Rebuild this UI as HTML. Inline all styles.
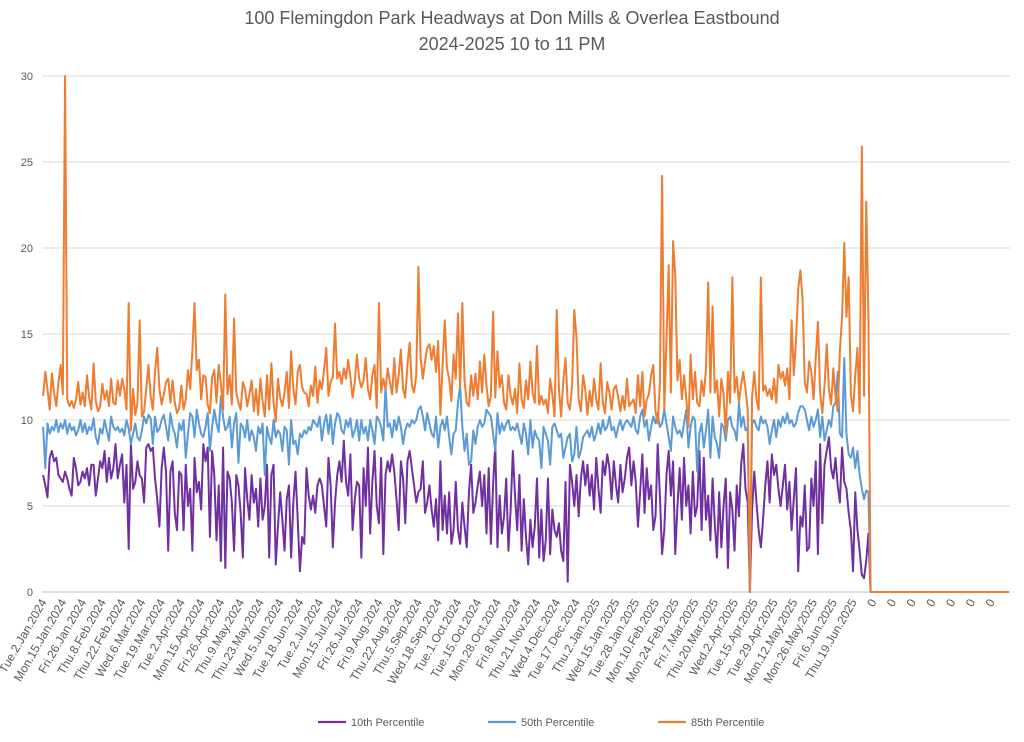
<!DOCTYPE html>
<html><head><meta charset="utf-8"><style>
body{margin:0;background:#fff;font-family:"Liberation Sans",sans-serif;}
svg text{font-family:"Liberation Sans",sans-serif;fill:#595959;}
</style></head><body>
<svg id="chart" width="1024" height="737" viewBox="0 0 1024 737" xmlns="http://www.w3.org/2000/svg">
<text x="512" y="24" text-anchor="middle" font-size="18">100 Flemingdon Park Headways at Don Mills &amp; Overlea Eastbound</text>
<text x="512" y="50" text-anchor="middle" font-size="18">2024-2025 10 to 11 PM</text>
<g id="grid"></g><g id="yticks"></g><g id="xticks"></g><g id="series"></g>
<g>
<line x1="318" y1="722" x2="346" y2="722" stroke="#7030A0" stroke-width="2.2"/>
<text x="351" y="726" font-size="11">10th Percentile</text>
<line x1="488" y1="722" x2="516" y2="722" stroke="#5B9BD5" stroke-width="2.2"/>
<text x="521" y="726" font-size="11">50th Percentile</text>
<line x1="658" y1="722" x2="686" y2="722" stroke="#ED7D31" stroke-width="2.2"/>
<text x="691" y="726" font-size="11">85th Percentile</text>
</g>
</svg>
<script>
const categoryLabels=["Tue.2.Jan.2024","Mon.15.Jan.2024","Fri.26.Jan.2024","Thu.8.Feb.2024","Thu.22.Feb.2024","Wed.6.Mar.2024","Tue.19.Mar.2024","Tue.2.Apr.2024","Mon.15.Apr.2024","Fri.26.Apr.2024","Thu.9.May.2024","Thu.23.May.2024","Wed.5.Jun.2024","Tue.18.Jun.2024","Tue.2.Jul.2024","Mon.15.Jul.2024","Fri.26.Jul.2024","Fri.9.Aug.2024","Thu.22.Aug.2024","Thu.5.Sep.2024","Wed.18.Sep.2024","Tue.1.Oct.2024","Tue.15.Oct.2024","Mon.28.Oct.2024","Fri.8.Nov.2024","Thu.21.Nov.2024","Wed.4.Dec.2024","Tue.17.Dec.2024","Thu.2.Jan.2025","Wed.15.Jan.2025","Tue.28.Jan.2025","Mon.10.Feb.2025","Mon.24.Feb.2025","Fri.7.Mar.2025","Thu.20.Mar.2025","Wed.2.Apr.2025","Tue.15.Apr.2025","Tue.29.Apr.2025","Mon.12.May.2025","Mon.26.May.2025","Fri.6.Jun.2025","Thu.19.Jun.2025","0","0","0","0","0","0","0"];
const yTicks=[0,5,10,15,20,25,30];
const p85=[11.4,12.8,11.8,10.6,12.7,11.6,10.8,12.2,13.2,11.5,
30,11.2,10.8,11.1,10.7,11.2,12.2,10.9,11.6,10.8,
12.6,11.3,10.6,13.3,11.1,10.5,10.8,12.1,11.2,11.7,
10.8,12.4,11.0,10.9,12.3,11.4,12.4,11.8,10.6,16.8,
9.4,11.8,10.3,11.0,15.8,10.2,10.5,11.8,13.2,11.4,
10.6,12.8,14.2,11.8,10.9,11.5,12.2,12.4,11.0,12.3,
11.0,10.4,10.7,12.0,10.6,11.2,12.9,11.8,14.0,16.8,
12.9,13.5,11.2,12.6,12.5,10.9,10.4,12.5,12.9,11.0,
13.2,12.1,10.6,17.3,11.5,12.6,10.9,15.9,11.6,11.0,
10.6,12.2,11.8,10.8,11.5,12.3,10.5,11.8,10.3,12.4,
11.1,10.2,12.6,10.6,13.3,11.0,9.9,12.4,11.3,10.8,
11.6,12.8,10.7,14.0,11.8,10.9,12.8,13.2,11.9,11.6,
11.5,10.8,12.0,11.4,13.1,11.0,12.3,11.8,12.9,14.2,
11.4,12.2,12.5,15.6,12.4,12.8,12.1,13.0,12.4,13.5,
12.5,11.3,12.2,13.8,12.4,11.9,12.3,13.6,11.8,11.2,
12.6,13.2,10.7,16.8,11.6,12.4,11.8,13.0,12.2,11.5,
13.6,11.6,12.6,14.1,11.8,11.3,13.2,14.5,12.0,11.6,
12.6,18.9,13.6,12.4,13.4,14.2,14.4,13.5,14.3,12.8,
14.6,10.3,13.2,15.8,13.0,12.4,11.1,13.8,12.4,16.2,
11.8,16.8,12.3,11.0,10.8,12.6,11.4,12.7,11.2,13.4,
11.6,13.8,12.0,10.8,11.4,16.3,11.3,14.0,11.9,12.6,
11.0,10.6,12.6,11.4,10.9,11.8,10.4,13.3,11.2,10.7,
12.3,11.2,13.4,11.6,11.0,14.3,10.9,11.4,10.9,11.2,
10.4,12.4,11.5,10.2,16.4,11.8,10.2,12.3,13.6,11.0,
10.6,12.0,16.4,14.8,11.2,10.5,12.6,11.8,10.3,11.7,
10.8,12.4,11.2,10.6,13.3,11.0,10.4,12.2,11.6,10.6,
11.8,12.0,11.3,10.5,11.4,10.6,12.4,10.8,11.0,11.2,
10.4,12.6,10.8,12.8,10.2,11.2,11.5,12.6,13.2,10.5,
9.8,12.1,24.2,10.6,14.6,19.0,11.6,20.4,18.4,12.3,
13.5,11.2,12.6,11.3,9.6,13.8,11.2,12.8,11.0,10.8,
12.3,11.4,13.0,18.0,11.6,16.6,11.6,12.3,10.2,12.4,
11.5,9.2,12.8,11.0,18.3,11.6,12.5,11.0,12.0,12.8,
11.8,10.6,0,11.4,12.8,11.2,10.6,18.3,11.7,12.0,
11.4,11.8,11.2,12.4,11.0,13.2,12.4,12.8,12.0,13.0,
11.2,15.8,12.6,14.6,17.6,18.7,17.0,12.2,11.6,13.4,
12.8,11.2,13.6,15.7,11.6,10.4,12.0,14.4,11.8,10.9,
13.0,11.4,10.5,14.0,16.0,20.3,16.0,18.3,11.5,10.5,
12.6,14.2,10.4,25.9,11.4,22.7,16.0];
const p50=[9.6,7.2,9.8,9.2,9.6,9.4,10.0,9.3,9.8,9.5,
10.0,9.2,9.8,9.4,9.6,9.1,9.4,10.0,9.3,9.8,
9.2,9.6,9.4,10.1,9.0,8.6,9.5,9.2,10.0,9.4,
8.8,10.2,9.6,9.4,9.6,9.3,9.5,9.1,10.0,9.5,
8.6,9.2,9.8,9.0,8.8,9.4,10.2,9.8,10.3,10.1,
8.6,10.2,9.3,9.5,10.0,10.3,9.6,8.8,10.4,9.6,
9.2,8.4,9.8,9.4,10.0,7.8,9.2,10.4,10.2,9.0,
10.6,9.8,9.2,9.0,9.6,10.4,8.2,9.6,10.6,9.8,
9.3,11.4,10.2,9.4,9.6,10.2,8.4,9.8,10.4,7.5,
9.8,9.6,9.0,10.0,8.8,9.4,9.0,8.2,9.6,9.2,
9.8,6.8,9.6,9.0,8.6,10.0,9.0,9.4,9.2,8.2,
9.6,9.4,7.4,10.0,8.6,8.8,8.0,9.2,9.0,9.4,
9.2,9.6,9.4,10.0,9.8,9.6,10.2,8.8,9.8,10.3,
9.2,10.3,8.6,9.8,10.4,10.2,9.4,9.2,10.0,9.6,
10.1,9.0,9.4,10.0,8.8,10.0,9.2,9.6,8.8,10.0,
9.4,8.6,10.2,10.0,9.6,8.8,12.0,9.6,9.8,9.0,
10.0,9.4,10.2,9.6,8.6,9.4,9.8,9.6,10.0,9.8,
10.0,10.6,10.8,10.2,9.4,10.4,9.8,9.2,9.0,10.2,
8.4,9.6,10.0,9.4,10.2,9.0,8.0,9.2,9.4,11.0,
12.0,9.6,8.2,9.2,7.4,7.6,9.4,8.6,9.6,10.0,
9.6,9.8,10.6,10.4,10.2,9.2,8.2,10.4,9.2,9.8,
9.4,9.8,10.0,9.4,9.6,9.4,9.8,9.2,8.6,9.8,
9.2,8.0,10.0,8.4,9.4,9.0,8.8,7.2,9.6,9.2,
8.8,7.4,9.6,9.8,9.4,9.0,9.2,7.8,8.4,9.0,
9.2,7.6,8.0,9.6,7.8,8.2,9.0,9.2,9.4,9.0,
9.6,8.8,9.2,9.8,9.2,10.0,9.4,9.6,10.2,9.4,
9.6,9.0,9.6,10.0,9.4,9.8,10.0,9.8,9.6,10.2,
9.4,9.2,10.2,10.6,9.6,10.0,8.8,9.6,10.2,9.8,
10.4,9.6,9.8,10.6,9.8,9.0,8.2,10.2,9.6,9.2,
9.4,9.0,9.8,10.6,8.4,9.6,10.2,10.0,7.0,9.2,
9.8,8.4,9.4,10.6,7.8,10.2,9.0,8.6,7.8,9.8,
9.6,8.8,10.0,10.2,9.6,9.4,8.8,11.0,9.6,10.2,
9.4,9.6,0,9.8,10.0,9.6,9.4,10.2,9.8,10.0,
9.6,8.6,9.4,10.0,9.0,10.0,9.6,10.2,9.8,10.4,
9.8,10.0,9.6,9.8,10.4,10.8,10.8,10.6,10.0,9.4,
10.2,9.6,10.0,10.6,9.0,10.2,8.8,9.4,10.0,9.6,
10.8,11.0,12.8,9.2,9.0,13.6,9.2,8.0,7.8,8.4,
7.2,8.2,6.8,6.0,5.4,5.9,5.8];
const p10=[6.8,6.2,5.5,7.8,8.2,7.6,7.8,6.8,6.6,6.4,
7.0,6.6,6.0,5.6,7.8,7.2,6.2,6.4,7.0,6.6,
7.2,6.2,7.4,7.4,5.6,6.6,7.6,7.2,8.2,6.4,
7.8,6.6,7.2,8.6,6.6,7.4,8.0,5.2,7.4,2.5,
8.6,6.0,6.4,7.6,6.8,6.6,5.2,8.4,8.6,8.2,
8.4,6.6,5.4,3.8,7.2,8.4,7.0,2.4,7.0,7.6,
4.6,3.6,7.0,6.8,3.6,7.4,5.0,6.0,2.4,7.8,
5.8,6.4,4.8,8.6,7.6,8.4,3.2,8.2,6.8,3.0,
6.2,1.8,8.4,1.4,7.0,6.6,5.2,2.4,6.8,6.2,
4.6,2.0,7.2,5.4,4.2,6.8,5.2,6.0,3.8,6.6,
4.2,5.0,7.4,2.0,6.8,7.4,1.6,3.8,5.8,4.2,
2.4,5.4,6.2,2.0,5.2,7.0,4.2,1.2,3.2,2.8,
7.2,5.6,4.8,5.6,4.6,6.2,6.6,6.2,5.0,3.8,
7.8,6.2,2.6,5.2,6.8,7.6,6.4,8.8,6.4,5.6,
8.0,3.6,5.4,6.4,6.2,2.0,7.2,5.0,8.4,3.4,
6.4,8.2,5.0,4.0,7.8,2.2,6.8,7.6,7.0,8.0,
7.0,5.4,3.6,7.6,6.6,4.0,7.6,8.2,7.2,6.2,
5.2,5.8,6.0,7.6,4.6,5.2,6.2,4.8,3.8,5.4,
3.0,7.6,3.6,5.6,3.4,5.8,2.8,3.6,6.4,3.6,
2.8,5.2,3.8,2.6,5.8,7.4,4.6,5.2,6.2,7.0,
5.0,6.8,3.4,7.2,2.8,6.2,8.6,2.6,5.6,3.4,
4.4,6.6,2.4,4.8,8.2,5.6,3.6,6.8,2.4,5.4,
3.2,1.6,4.2,2.6,3.8,6.6,2.0,4.8,1.8,3.0,
6.6,2.2,4.8,3.6,3.2,4.0,2.4,1.8,6.4,0.6,
7.4,6.4,5.0,6.8,4.4,6.6,7.6,6.2,7.4,5.6,
6.8,4.8,7.8,6.0,4.6,7.6,6.8,8.0,7.2,5.4,
7.6,6.2,5.2,7.4,5.8,6.6,7.8,8.4,6.2,7.6,
6.4,3.8,5.8,8.0,4.6,7.2,5.4,6.2,3.6,4.4,
8.6,5.6,2.2,3.6,6.8,8.2,5.6,7.6,2.2,5.0,
7.2,4.2,7.8,5.0,6.2,3.4,7.0,4.4,5.0,8.2,
3.6,7.8,4.2,5.6,3.0,6.6,4.0,2.0,5.8,2.6,
5.0,6.6,1.4,5.8,4.8,2.4,6.2,4.4,7.4,8.6,
6.0,5.2,0,4.8,7.0,5.2,3.6,2.6,4.2,6.2,
7.6,5.2,8.0,6.8,7.4,6.0,5.0,6.2,7.4,4.8,
6.4,3.6,5.4,7.2,1.2,4.4,3.8,6.2,2.4,2.6,
6.6,5.0,7.6,2.2,8.6,4.0,7.4,8.2,9.0,7.2,
6.6,7.8,6.2,5.2,8.4,6.4,6.0,4.6,3.6,1.2,
5.8,3.6,2.4,1.0,0.8,1.8,3.4];
const pointsPerLabel=9;
const NS="http://www.w3.org/2000/svg";
const X0=42,X1=1010,Y0=592,YTOP=76,YMAX=30;
const N=categoryLabels.length*pointsPerLabel;
const step=(X1-X0)/N;
function xScale(i){return X0+(i+0.5)*step;}
function yScale(v){return Y0-(v/YMAX)*(Y0-YTOP);}
function mk(tag,attrs,parent){const e=document.createElementNS(NS,tag);for(const k in attrs)e.setAttribute(k,attrs[k]);parent.appendChild(e);return e;}
const grid=document.getElementById('grid'),yt=document.getElementById('yticks'),xt=document.getElementById('xticks'),ser=document.getElementById('series');
yTicks.forEach(v=>{
  const l=mk('line',{x1:X0,x2:X1,y1:yScale(v),y2:yScale(v),stroke:v===0?'#bfbfbf':'#d9d9d9','stroke-width':1},grid);
  
  
  const t=mk('text',{x:33,y:yScale(v)+4,'text-anchor':'end','font-size':11},yt);
  t.textContent=v;
  
  
});
categoryLabels.forEach((lab,k)=>{
  const x=xScale(k*pointsPerLabel)+4, y=Y0+10;
  const t=mk('text',{x:x,y:y,'text-anchor':'end','font-size':12,transform:'rotate(-60 '+x+' '+y+')'},xt);
  t.textContent=lab;
  
  
});
function full(arr){const a=arr.slice();while(a.length<N)a.push(0);return a;}
[[p10,'#7030A0','series-10th-percentile'],[p50,'#5B9BD5','series-50th-percentile'],[p85,'#ED7D31','series-85th-percentile']].forEach(([arr,c,name])=>{
  const d=full(arr).map((v,i)=>(i?'L':'M')+xScale(i).toFixed(2)+' '+yScale(v).toFixed(2)).join(' ');
  const p=mk('path',{d:d,fill:'none',stroke:c,'stroke-width':2,'stroke-linejoin':'round'},ser);
  
  
});
</script>
</body></html>
